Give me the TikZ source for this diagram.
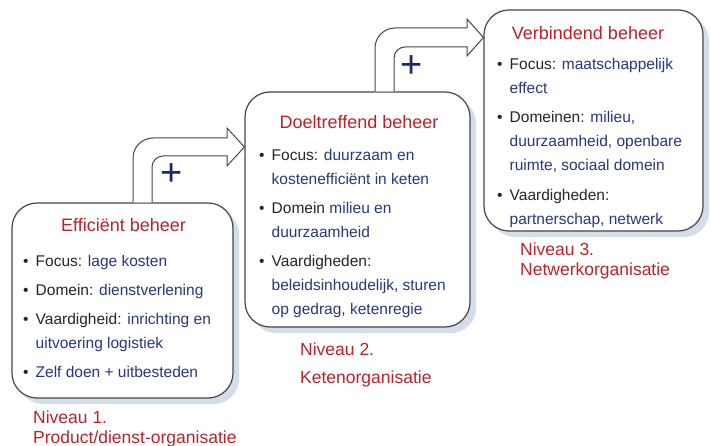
\documentclass[tikz,border=0pt]{standalone}
\usepackage{fontspec}
\setmainfont{Liberation Sans}
\usepackage{xcolor}
\usetikzlibrary{shadows}

\definecolor{titelrood}{RGB}{192,32,40}
\definecolor{inhoudblauw}{RGB}{42,54,128}
\definecolor{tekstgrijs}{RGB}{38,38,38}
\definecolor{randgrijs}{RGB}{70,70,70}
\definecolor{schaduw}{RGB}{212,221,234}
\definecolor{plusblauw}{RGB}{28,38,108}

\newcommand{\bol}{\makebox[12.5pt][l]{\textbullet}}
\newcommand{\insp}{\hspace*{12.5pt}}
\newcommand{\bl}[1]{\textcolor{inhoudblauw}{#1}}

\begin{document}
\begin{tikzpicture}[x=1pt,y=-1pt,
    niveau/.style={draw=randgrijs, line width=1.2pt, fill=white, rounded corners=25pt,
        drop shadow={shadow xshift=6pt, shadow yshift=-6pt, fill=schaduw, opacity=1}},
    titel/.style={text=titelrood, font=\fontsize{18}{22}\selectfont},
    lijst/.style={anchor=base west, align=left, inner sep=0pt, text=tekstgrijs,
        font=\fontsize{15.5}{24}\selectfont},
    label/.style={anchor=base west, align=left, inner sep=0pt, text=titelrood,
        font=\fontsize{17.5}{20}\selectfont},
    pijl/.style={draw=randgrijs, line width=1pt, fill=white},
    plus/.style={text=plusblauw, font=\fontsize{38}{38}\selectfont}]

    \useasboundingbox (0,0) rectangle (711,446);

    % de drie niveaus
    \node[niveau, minimum width=221pt, minimum height=195pt] (eff) at (122.5,300.5) {};
    \node[niveau, minimum width=225pt, minimum height=235pt] (doel) at (357.5,209.5) {};
    \node[niveau, minimum width=219pt, minimum height=221pt] (verb) at (593.5,120.5) {};

    % pijlen tussen de niveaus
    \draw[pijl] (133,0 |- eff.north) -- (133,158) .. controls (133,147) and (142,138) .. (153,138)
        -- (227,138) -- (227,128) -- (doel.west |- 0,147) -- (227,166) -- (227,156)
        -- (163,156) .. controls (157,156) and (152,161) .. (152,167) -- (152,0 |- eff.north);
    \draw[pijl] (375,0 |- doel.north) -- (375,48) .. controls (375,37) and (384,28) .. (395,28)
        -- (467,28) -- (467,19) -- (verb.west |- 0,37.5) -- (467,56) -- (467,47)
        -- (405,47) .. controls (399,47) and (394,52) .. (394,58) -- (394,0 |- doel.north);
    \node[plus] (plus1) at (172,175) {+};
    \node[plus] (plus2) at (412,67) {+};

    % niveau 1 (base = laatste regel)
    \node[titel] (effTitel) at (123.5,225) {Efficiënt beheer};
    \node[lijst] (effLijst) at (23,377) {\bol Focus: \bl{lage kosten}\\[5pt]
        \bol Domein: \bl{dienstverlening}\\[5pt]
        \bol Vaardigheid: \bl{inrichting en}\\
        \insp\bl{uitvoering logistiek}\\[5pt]
        \bol\bl{Zelf doen + uitbesteden}};
    \node[label] (effLabel) at (33,443) {Niveau 1.\\Product/dienst-organisatie};

    % niveau 2
    \node[titel] (doelTitel) at (359,122) {Doeltreffend beheer};
    \node[lijst] (doelLijst) at (259,314) {\bol Focus: \bl{duurzaam en}\\
        \insp\bl{kostenefficiënt in keten}\\[5pt]
        \bol Domein \bl{milieu en}\\
        \insp\bl{duurzaamheid}\\[5pt]
        \bol Vaardigheden:\\
        \insp\bl{beleidsinhoudelijk, sturen}\\
        \insp\bl{op gedrag, ketenregie}};
    \node[label] (doelLabel) at (300,383) {Niveau 2.\\[8pt]Ketenorganisatie};

    % niveau 3
    \node[titel] (verbTitel) at (588,33) {Verbindend beheer};
    \node[lijst] (verbLijst) at (497,224) {\bol Focus: \bl{maatschappelijk}\\
        \insp\bl{effect}\\[5pt]
        \bol Domeinen: \bl{milieu,}\\
        \insp\bl{duurzaamheid, openbare}\\
        \insp\bl{ruimte, sociaal domein}\\[5pt]
        \bol Vaardigheden:\\
        \insp\bl{partnerschap, netwerk}};
    \node[label] (verbLabel) at (520,275) {Niveau 3.\\Netwerkorganisatie};
\end{tikzpicture}
\end{document}
